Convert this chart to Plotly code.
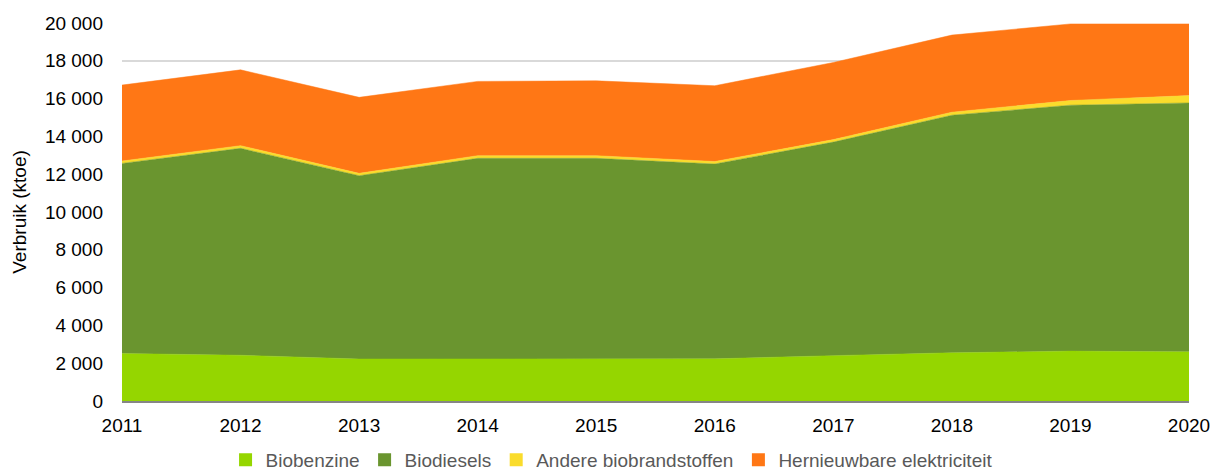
import plotly.graph_objects as go

years = [2011, 2012, 2013, 2014, 2015, 2016, 2017, 2018, 2019, 2020]
biobenzine = [2510, 2420, 2220, 2230, 2260, 2230, 2400, 2550, 2640, 2600]
biodiesels = [10060, 10950, 9700, 10610, 10580, 10310, 11300, 12570, 13010, 13170]
andere = [125, 140, 125, 140, 140, 130, 130, 160, 250, 390]
elektriciteit = [4020, 4010, 4020, 3930, 3960, 4010, 4080, 4080, 4050, 3790]

series = [
    ("Biobenzine", biobenzine, "#95D600"),
    ("Biodiesels", biodiesels, "#6A952F"),
    ("Andere biobrandstoffen", andere, "#FADC2C"),
    ("Hernieuwbare elektriciteit", elektriciteit, "#FF7715"),
]

fig = go.Figure()
for name, vals, col in series:
    fig.add_trace(go.Scatter(
        x=years, y=vals, name=name, mode="lines", stackgroup="one",
        line=dict(width=0.5, color=col), fillcolor=col, showlegend=False,
        legendgroup=name,
    ))
# square legend keys
for name, vals, col in series:
    fig.add_trace(go.Scatter(
        x=[None], y=[None], name=name, mode="markers", legendgroup=name,
        marker=dict(symbol="square", size=13, color=col), showlegend=True,
    ))

fig.update_layout(
    width=1211, height=474,
    margin=dict(l=122, r=22, t=23, b=73, autoexpand=False),
    plot_bgcolor="white", paper_bgcolor="white",
    separators=", ",
    font=dict(family="Liberation Sans, Arial, sans-serif", size=19, color="#000000"),
    showlegend=True,
    legend=dict(orientation="h", x=0.505, xanchor="center", xref="container",
                y=0.03, yanchor="middle", yref="container",
                font=dict(size=19, color="#595959"), traceorder="normal",
                itemwidth=30, bgcolor="rgba(0,0,0,0)"),
    xaxis=dict(range=[2011, 2020], tickmode="array", tickvals=years,
               ticktext=[str(y) for y in years], showgrid=False,
               showline=True, linecolor="#868686", linewidth=1.5, ticks="",
               zeroline=False, automargin=False, ticklabelstandoff=6),
    yaxis=dict(range=[0, 20000], dtick=2000, tickformat=",d", showgrid=True,
               gridcolor="#D9D9D9", gridwidth=1.5, zeroline=False, showline=False,
               ticks="", ticklabelstandoff=18, automargin=False,
               title=dict(text="Verbruik (ktoe)", standoff=13, font=dict(size=19))),
)

fig.write_html("out.html", config={"displayModeBar": False},
               post_script="document.body.style.margin='0';document.body.style.overflow='hidden';")
